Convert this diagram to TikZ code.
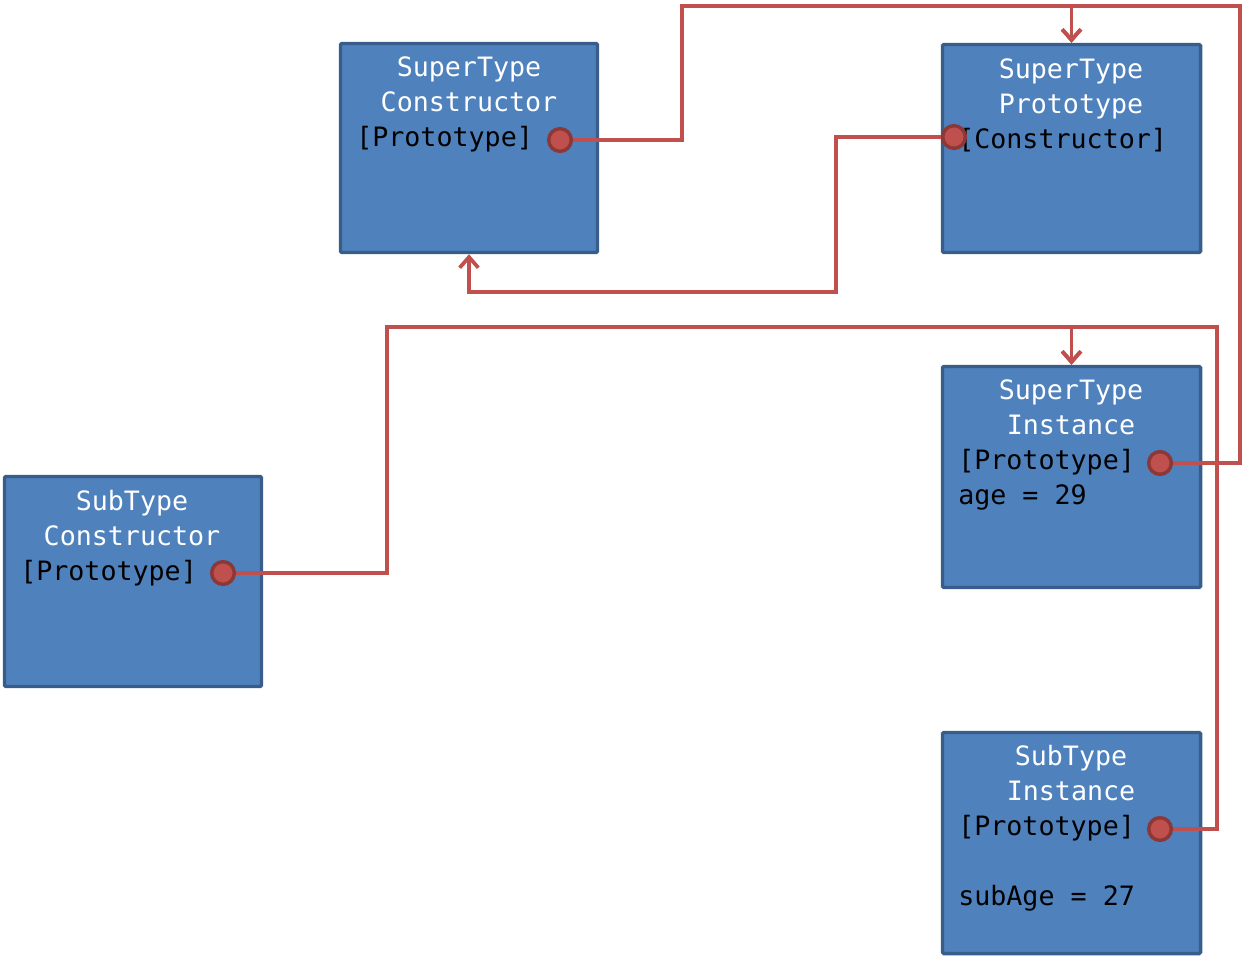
\documentclass[tikz,border=0pt]{standalone}
\usepackage{fontspec}
\setmonofont{DejaVu Sans Mono}
\usetikzlibrary{arrows.meta}
\definecolor{boxfill}{HTML}{4F81BD}
\definecolor{boxline}{HTML}{385D8A}
\definecolor{wirered}{HTML}{C0504D}
\definecolor{dotline}{HTML}{8C3836}
\begin{document}
\begin{tikzpicture}[x=0.75pt,y=-0.75pt,
  objbox/.style={draw=boxline, fill=boxfill, line width=2.6pt, rounded corners=1pt, inner sep=0pt},
  ttl/.style={font=\ttfamily\fontsize{20}{26}\selectfont, text=white, inner sep=0pt, anchor=base},
  fld/.style={font=\ttfamily\fontsize{20}{26}\selectfont, text=black, inner sep=0pt, anchor=base west},
  refdot/.style={circle, fill=wirered, draw=dotline, line width=2.6pt, minimum size=17pt, inner sep=0pt},
  wire/.style={draw=wirered, line width=2.8pt},
  pointer/.style={wire, -{Straight Barb[length=8pt,width=14pt]}}
]
\useasboundingbox (0,0) rectangle (1248,957);

% boxes
\node[objbox, minimum width=192.75pt, minimum height=156.75pt] (b1) at (469,148) {};
\node[objbox, minimum width=193.5pt, minimum height=156pt] (b2) at (1071.5,148.5) {};
\node[objbox, minimum width=193.5pt, minimum height=165.75pt] (b3) at (1071.5,477) {};
\node[objbox, minimum width=192.75pt, minimum height=157.5pt] (b4) at (133,581.5) {};
\node[objbox, minimum width=193.5pt, minimum height=165.75pt] (b5) at (1071.5,843) {};

% texts
\node[ttl] (t1a) at (469,76) {SuperType};
\node[ttl] (t1b) at (469,111) {Constructor};
\node[fld] (t1c) at (356,146) {[Prototype]};

\node[ttl] (t2a) at (1071,78) {SuperType};
\node[ttl] (t2b) at (1071,113) {Prototype};
\node[fld] (t2c) at (958,148) {[Constructor]};

\node[ttl] (t3a) at (1071,399) {SuperType};
\node[ttl] (t3b) at (1071,434) {Instance};
\node[fld] (t3c) at (958,469) {[Prototype]};
\node[fld] (t3d) at (958,504) {age = 29};

\node[ttl] (t4a) at (132,510) {SubType};
\node[ttl] (t4b) at (132,545) {Constructor};
\node[fld] (t4c) at (20,580) {[Prototype]};

\node[ttl] (t5a) at (1071,765) {SubType};
\node[ttl] (t5b) at (1071,800) {Instance};
\node[fld] (t5c) at (958,835) {[Prototype]};
\node[fld] (t5d) at (958,905) {subAge = 27};

% dot anchors
\coordinate (p1) at (560,140);
\coordinate (p2) at (954,137);
\coordinate (p3) at (1160,463);
\coordinate (p4) at (223,573);
\coordinate (p5) at (1160,829);

% bends
\coordinate (k1) at (682,6);
\coordinate (k3) at (1240,6);
\coordinate (k2) at (836,292);
\coordinate (k4) at (387,327);
\coordinate (k5) at (1217,327);

% connectors
\draw[pointer] (p1) -| (k1) -| (b2.north);
\draw[pointer] (p3) -| (k3) -| (b2.north);
\draw[pointer] (p2) -| (k2) -| (b1.south);
\draw[pointer] (p4) -| (k4) -| (b3.north);
\draw[pointer] (p5) -| (k5) -| (b3.north);

% dots
\node[refdot] (d1) at (p1) {};
\node[refdot] (d2) at (p2) {};
\node[refdot] (d3) at (p3) {};
\node[refdot] (d4) at (p4) {};
\node[refdot] (d5) at (p5) {};
\end{tikzpicture}
\end{document}
